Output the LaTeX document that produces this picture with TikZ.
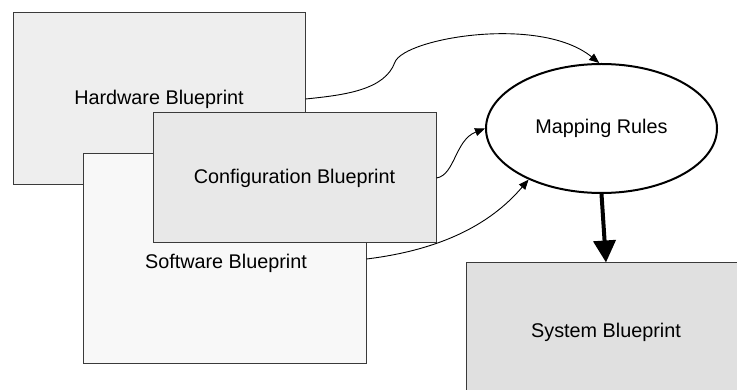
\documentclass[tikz,border=0pt]{standalone}
\usepackage{fontspec}
\setmainfont{Liberation Sans}
\usetikzlibrary{shapes.geometric,arrows.meta}

\definecolor{hwfill}{HTML}{EEEEEE}
\definecolor{swfill}{HTML}{F8F8F8}
\definecolor{cfgfill}{HTML}{E8E8E8}
\definecolor{sysfill}{HTML}{E0E0E0}
\definecolor{boxline}{HTML}{3A3A3A}

\tikzset{
  blueprint/.style={draw=boxline, line width=1pt, rectangle, inner sep=0pt,
    font=\fontsize{19.8}{23}\selectfont},
  rulebox/.style={draw=black, line width=2pt, ellipse, fill=white, inner sep=0pt,
    minimum width=231pt, minimum height=129pt, font=\fontsize{19.8}{23}\selectfont},
  feed/.style={draw=black, line width=0.9pt, -{Triangle[width=8pt,length=10pt]}},
  produce/.style={draw=black, line width=4pt, -{Triangle[width=22pt,length=22pt]}}
}

\begin{document}
\begin{tikzpicture}[x=1pt, y=-1pt]
  \clip (0,0) rectangle (737,390);
  \useasboundingbox (0,0) rectangle (737,390);

  % input blueprints, stacked
  \node[blueprint, fill=hwfill, minimum width=292pt, minimum height=172pt]
    (hw) at (159,99) {Hardware Blueprint};
  \node[blueprint, fill=swfill, minimum width=283pt, minimum height=210pt]
    (sw) at (224.5,259) {};
  \node[blueprint, fill=cfgfill, minimum width=283pt, minimum height=130pt]
    (cfg) at (294.5,178) {Configuration Blueprint};
  \node[font=\fontsize{19.8}{23}\selectfont] (swlabel) at (226,263) {Software Blueprint};

  % rules and result
  \node[rulebox] (map) at (601.5,128.5) {Mapping Rules};
  \node[blueprint, fill=sysfill, minimum width=280pt, minimum height=138pt]
    (sys) at (606,332) {System Blueprint};

  % connectors
  \coordinate (bend) at (395,62);
  \draw[feed] (hw.east) .. controls (345,95) and (385,90) .. (bend)
     .. controls (405,38) and (540,15) .. (map.92);
  \draw[feed] (cfg.east) .. controls (455,175) and (455,140) .. (map.west);
  \draw[feed] (sw.east) .. controls (440,250) and (490,225) .. (map.215);
  \draw[produce] (map.south) -- (sys.north);
\end{tikzpicture}
\end{document}
